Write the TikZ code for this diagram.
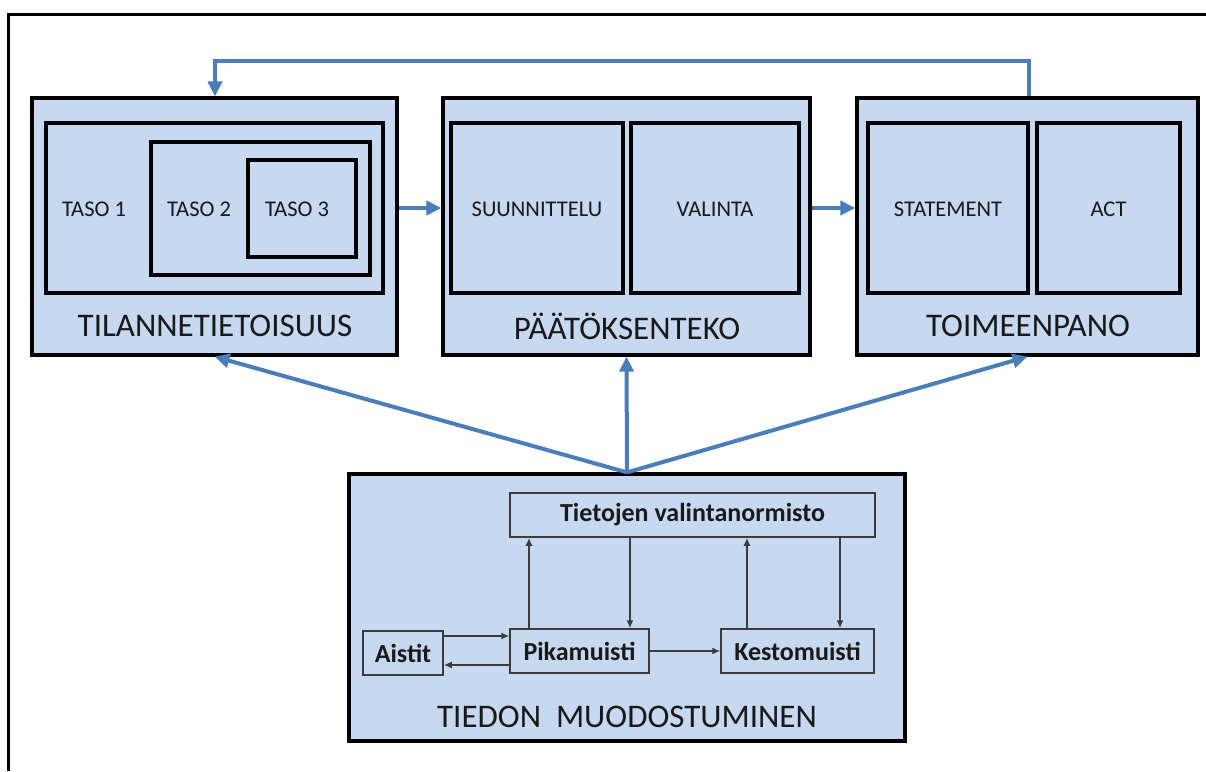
\documentclass[tikz,border=0pt]{standalone}
\usepackage{fontspec}
\setmainfont{Carlito}
\usetikzlibrary{arrows.meta,calc}
\definecolor{boxfill}{RGB}{198,217,240}
\definecolor{arrblue}{RGB}{74,126,187}
\definecolor{txt}{RGB}{25,25,25}
\definecolor{sgray}{RGB}{60,60,60}
\begin{document}
\begin{tikzpicture}[x=1pt,y=-1pt,
  bigbox/.style={draw=black,line width=3.2pt,fill=boxfill,rectangle,inner sep=0pt},
  inbox/.style={draw=black,line width=3.2pt,fill=boxfill,rectangle,inner sep=0pt},
  smallbox/.style={draw=sgray,line width=1.5pt,fill=boxfill,rectangle,inner sep=0pt,font=\fontsize{26}{30}\selectfont\bfseries,text=txt},
  biglabel/.style={font=\fontsize{33}{36}\selectfont,text=txt,inner sep=0pt},
  inlabel/.style={font=\fontsize{22.5}{26}\selectfont,text=txt,inner sep=0pt},
  bluearrow/.style={draw=arrblue,line width=4pt,-{Triangle[length=15pt,width=14pt]}},
  smallarrow/.style={draw=sgray,line width=1.5pt,-{Latex[length=8pt,width=7pt]}}]
\useasboundingbox (0,0) rectangle (1206,771);
\fill[white] (0,0) rectangle (1206,771);
% outer frame
\coordinate (fr1) at (8,771);
\coordinate (fr2) at (8,14);
\coordinate (fr3) at (1206,14);
\draw[line width=3pt,black] (fr1) -- (fr2) -- (fr3);

% top boxes
\node[bigbox,minimum width=365pt,minimum height=257pt] (b1) at (214.5,226.5) {};
\node[bigbox,minimum width=367pt,minimum height=257pt] (b2) at (626.5,226.5) {};
\node[bigbox,minimum width=341pt,minimum height=257pt] (b3) at (1027.5,226.5) {};

% box 1 inner
\node[inbox,minimum width=337pt,minimum height=170pt] (b1in) at (214.5,208) {};
\node[inbox,minimum width=219pt,minimum height=133pt] (t2) at (260.5,208.5) {};
\node[inbox,minimum width=108pt,minimum height=97pt] (t3) at (302,208.5) {};
\node[inlabel] (lt1) at (94,209) {TASO 1};
\node[inlabel] (lt2) at (199,209) {TASO 2};
\node[inlabel] (lt3) at (297,209) {TASO 3};
\node[biglabel] (l1) at (215,326) {TILANNETIETOISUUS};

% box 2 inner
\node[inbox,minimum width=172pt,minimum height=170pt] (suu) at (537,208) {};
\node[inbox,minimum width=168pt,minimum height=170pt] (val) at (715,208) {};
\node[inlabel] (lsuu) at (537,209) {SUUNNITTELU};
\node[inlabel] (lval) at (715,209) {VALINTA};
\node[biglabel] (l2) at (627,326) {PÄÄTÖKSENTEKO};

% box 3 inner
\node[inbox,minimum width=160pt,minimum height=170pt] (sta) at (948,208) {};
\node[inbox,minimum width=143pt,minimum height=170pt] (act) at (1108.5,208) {};
\node[inlabel] (lsta) at (948,209) {STATEMENT};
\node[inlabel] (lact) at (1108.5,209) {ACT};
\node[biglabel] (l3) at (1028,326) {TOIMEENPANO};

% horizontal arrows
\draw[bluearrow] (b1in.east -| b1.east) -- (b1in.east -| b2.west);
\draw[bluearrow] (b1in.east -| b2.east) -- (b1in.east -| b3.west);

% feedback arrow
\coordinate (fbx) at (1029,61);
\coordinate (fbl) at (215,61);
\draw[bluearrow,line join=miter] (fbx |- b3.north) -- (fbx) -- (fbl) -- (fbl |- b1.north);

% bottom box
\node[bigbox,minimum width=556pt,minimum height=267pt] (bot) at (627,607.5) {};
\node[biglabel] (l4) at (627,717) {TIEDON\ \ MUODOSTUMINEN};

\node[smallbox,minimum width=365pt,minimum height=44pt] (tiet) at (692.5,515) {Tietojen valintanormisto};
\node[smallbox,minimum width=80pt,minimum height=44pt] (ais) at (403,653) {Aistit};
\node[smallbox,minimum width=139pt,minimum height=44pt] (pik) at (579.5,651) {Pikamuisti};
\node[smallbox,minimum width=153pt,minimum height=44pt] (kes) at (797.5,651) {Kestomuisti};

\coordinate (ya) at (0,636);
\coordinate (yb) at (0,665);
\coordinate (xa) at (529,0);
\coordinate (xb) at (630,0);
\coordinate (xc) at (747,0);
\coordinate (xd) at (840,0);
\draw[smallarrow] (ais.east |- ya) -- (pik.west |- ya);
\draw[smallarrow] (pik.west |- yb) -- (ais.east |- yb);
\draw[smallarrow] (pik.east) -- (kes.west);
\draw[smallarrow] (pik.north -| xa) -- (tiet.south -| xa);
\draw[smallarrow] (tiet.south -| xb) -- (pik.north -| xb);
\draw[smallarrow] (kes.north -| xc) -- (tiet.south -| xc);
\draw[smallarrow] (tiet.south -| xd) -- (kes.north -| xd);

% blue arrows from bottom box
\draw[bluearrow] (bot.north) -- (b2.south);
\draw[bluearrow] (bot.north) -- (b1.south);
\draw[bluearrow] (bot.north) -- (b3.south);
\end{tikzpicture}
\end{document}
